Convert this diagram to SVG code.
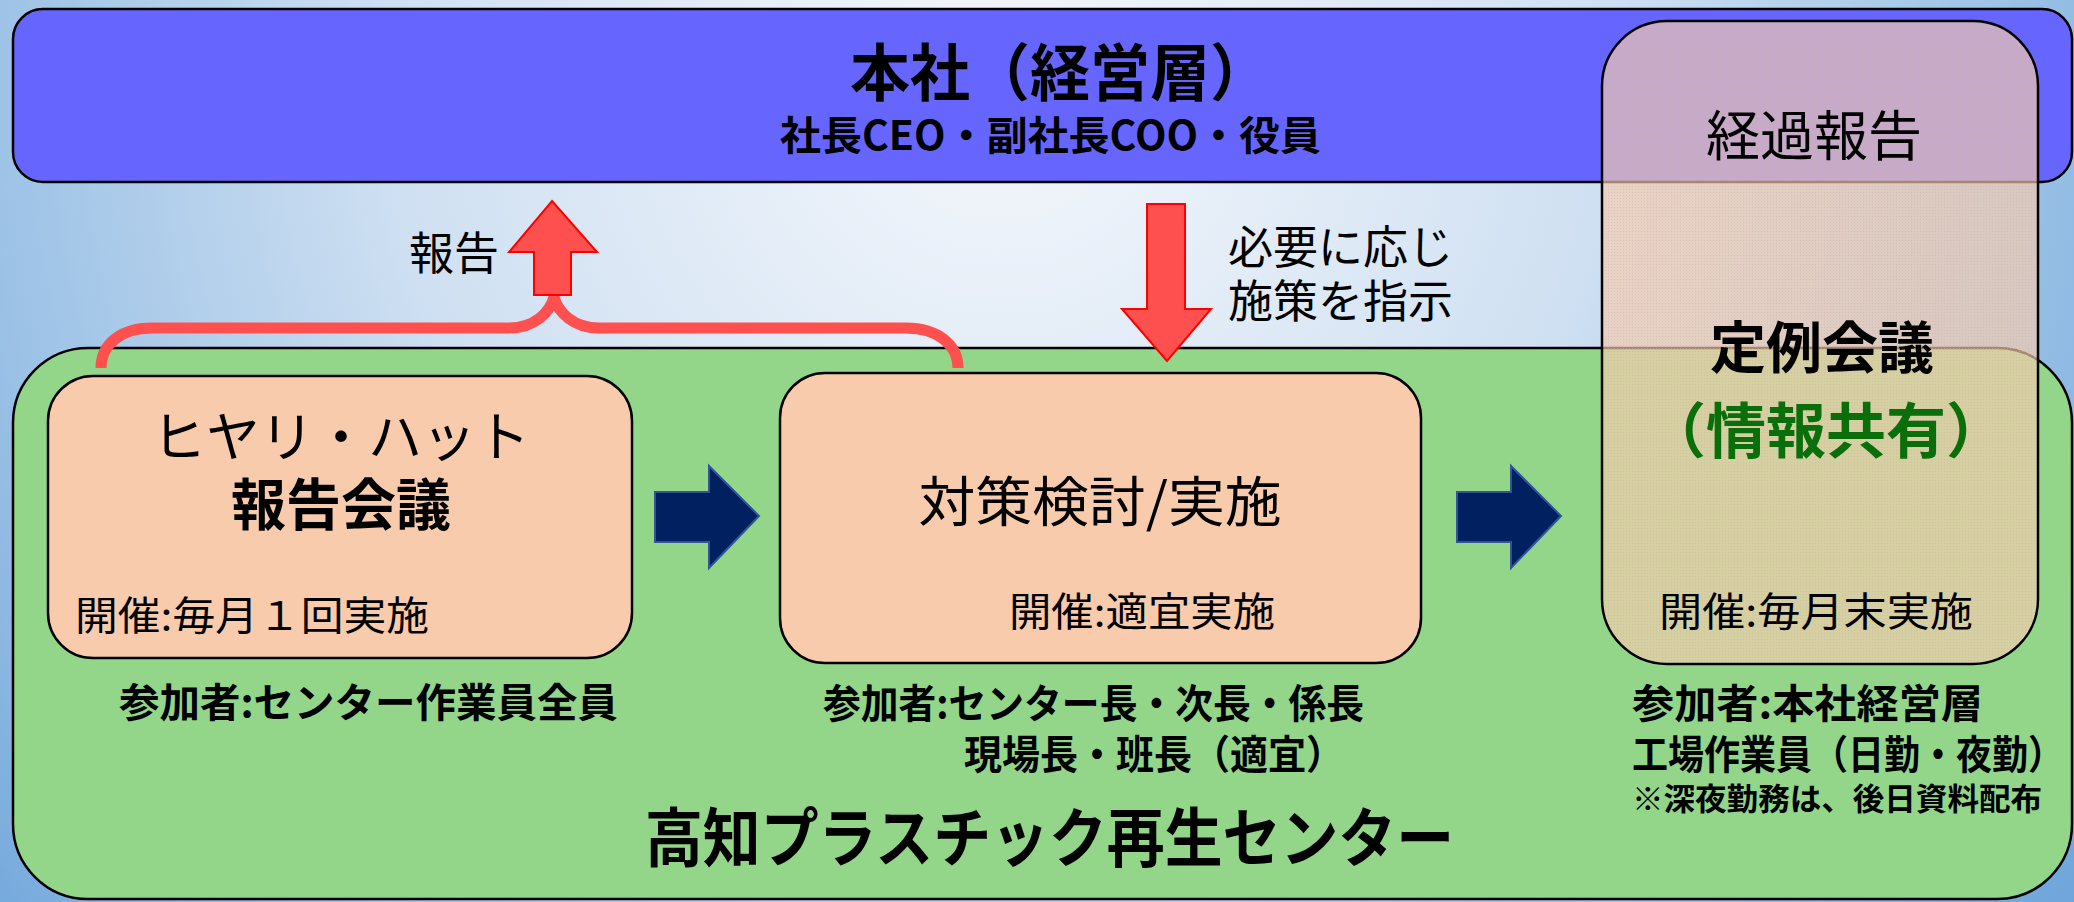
<svg xmlns="http://www.w3.org/2000/svg" width="2074" height="902" viewBox="0 0 2074 902">
  <defs>
    <radialGradient id="bg" cx="1000" cy="80" r="1350" gradientUnits="userSpaceOnUse">
      <stop offset="0" stop-color="#f6f8fc"/>
      <stop offset="0.45" stop-color="#cfe0f2"/>
      <stop offset="0.75" stop-color="#9cc2e6"/>
      <stop offset="1" stop-color="#6fa5db"/>
    </radialGradient>
    <pattern id="dots" width="3" height="3" patternUnits="userSpaceOnUse">
      <rect width="3" height="3" fill="#f8cbad" fill-opacity="0.66"/>
      <rect width="1" height="1" fill="#c8b4a8" fill-opacity="0.5"/>
    </pattern>
  </defs>
  <style>
    text { font-family: "Noto Sans CJK JP", "Noto Sans", sans-serif; fill: #000; }
    .b { font-weight: 700; }
    .box { stroke: #000; stroke-width: 2.5; }
    .peach { fill: #f8cbad; }
    .red { fill: #ff5050; stroke: #ff0000; stroke-width: 2; }
    .navy { fill: #002060; stroke: #2f5597; stroke-width: 2; }
    .mid { text-anchor: middle; }
  </style>
  <rect x="0" y="0" width="2074" height="902" fill="url(#bg)"/>

  <g id="honsha">
    <rect class="box" x="13" y="9" width="2059" height="173" rx="30" ry="30" fill="#6666ff"/>
    <text class="b"><tspan x="850" y="96" font-size="62" textLength="420" lengthAdjust="spacingAndGlyphs">本社（経営層）</tspan><tspan x="780" y="150" font-size="40" textLength="541" lengthAdjust="spacingAndGlyphs">社長CEO・副社長COO・役員</tspan></text>
  </g>

  <g id="center">
    <rect class="box" x="13" y="348" width="2059" height="551" rx="75" ry="75" fill="#93d68a"/>
    <text class="b" x="645" y="861" font-size="64" textLength="809" lengthAdjust="spacingAndGlyphs">高知プラスチック再生センター</text>
  </g>

  <g id="connectors">
    <path d="M101,368 C101,345 120,328 152,328 L509,328 C535,328 550,312 554,297 C558,312 573,328 599,328 L906,328 C938,328 958,345 958,368" fill="none" stroke="#ff5050" stroke-width="11"/>
    <polygon class="red" points="552,201 597,252 571,252 571,295 534,295 534,252 509,252"/>
    <text x="409" y="270" font-size="45">報告</text>
    <polygon class="red" points="1147,204 1185,204 1185,309 1211,309 1167,361 1122,309 1147,309"/>
    <text font-size="45"><tspan x="1228" y="264">必要に応じ</tspan><tspan x="1228" y="318">施策を指示</tspan></text>
    <polygon class="navy" points="655,492 709,492 709,466 759,516 709,568 709,542 655,542"/>
    <polygon class="navy" points="1457,492 1511,492 1511,466 1561,516 1511,568 1511,542 1457,542"/>
  </g>

  <g id="hiyari">
    <rect class="box peach" x="48" y="376" width="584" height="282" rx="45" ry="45"/>
    <text class="mid"><tspan x="341" y="457" font-size="54">ヒヤリ・ハット</tspan><tspan class="b" x="341" y="525" font-size="56" textLength="220" lengthAdjust="spacingAndGlyphs">報告会議</tspan></text>
    <text x="75" y="630" font-size="40" textLength="354" lengthAdjust="spacingAndGlyphs">開催:毎月１回実施</text>
    <text class="b" x="119" y="717" font-size="40" textLength="499" lengthAdjust="spacingAndGlyphs">参加者:センター作業員全員</text>
  </g>

  <g id="taisaku">
    <rect class="box peach" x="780" y="373" width="641" height="290" rx="45" ry="45"/>
    <text class="mid" x="1100" y="522" font-size="54" textLength="363" lengthAdjust="spacingAndGlyphs">対策検討/実施</text>
    <text x="1009" y="626" font-size="40" textLength="266" lengthAdjust="spacingAndGlyphs">開催:適宜実施</text>
    <text class="b" font-size="40"><tspan x="823" y="718" textLength="541" lengthAdjust="spacingAndGlyphs">参加者:センター長・次長・係長</tspan><tspan x="964" y="769" textLength="380" lengthAdjust="spacingAndGlyphs">現場長・班長（適宜）</tspan></text>
  </g>

  <g id="teirei">
    <rect class="box" x="1602" y="21" width="436" height="643" rx="65" ry="65" fill="url(#dots)"/>
    <text class="mid" x="1814" y="156" font-size="54">経過報告</text>
    <text class="b mid"><tspan x="1822" y="368" font-size="56">定例会議</tspan><tspan x="1826" y="453" font-size="60" style="fill:#0a6e0a">（情報共有）</tspan></text>
    <text x="1659" y="626" font-size="40" textLength="314" lengthAdjust="spacingAndGlyphs">開催:毎月末実施</text>
    <text class="b" x="1632" y="718" font-size="40" textLength="351" lengthAdjust="spacingAndGlyphs">参加者:本社経営層</text>
    <text class="b" transform="translate(1632,769) scale(0.9,1)" x="0" y="0" font-size="40">工場作業員（日勤・夜勤）</text>
    <text class="b" x="1632" y="810" font-size="31" textLength="410" lengthAdjust="spacingAndGlyphs">※深夜勤務は、後日資料配布</text>
  </g>
</svg>
